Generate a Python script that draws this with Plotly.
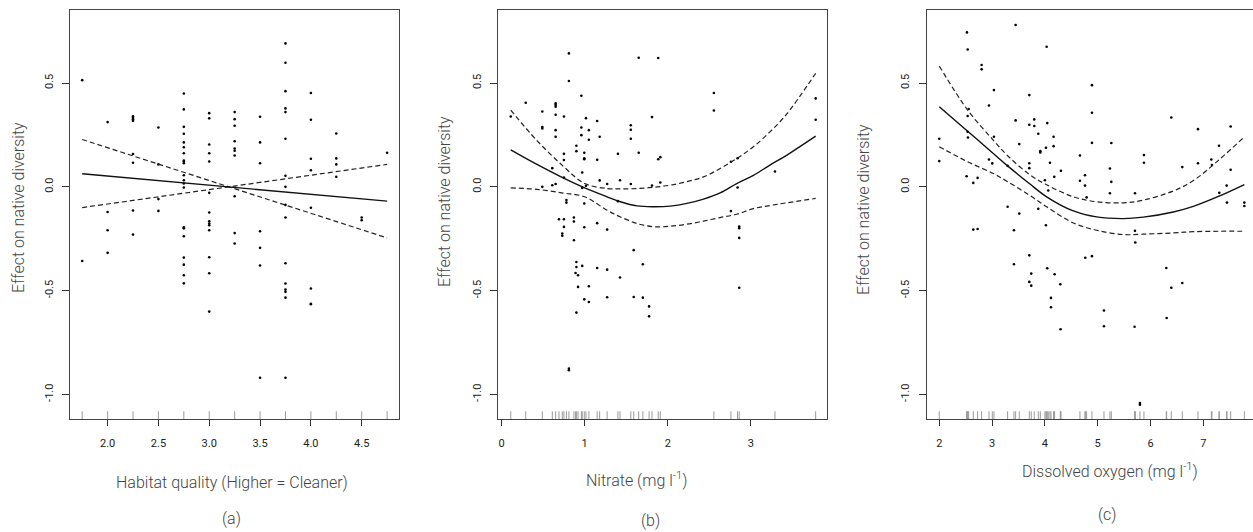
import plotly.graph_objects as go

# ---------------- Panel (a): habitat quality ----------------
hab_x = [1.75, 1.75,
         2.0, 2.0, 2.0, 2.0,
         2.25, 2.25, 2.25, 2.25, 2.25, 2.25, 2.25, 2.25,
         2.5, 2.5, 2.5, 2.5,
         2.75, 2.75, 2.75, 2.75, 2.75, 2.75, 2.75, 2.75, 2.75, 2.75, 2.75,
         2.75, 2.75, 2.75, 2.75, 2.75, 2.75, 2.75, 2.75, 2.75, 2.75,
         3.0, 3.0, 3.0, 3.0, 3.0, 3.0, 3.0, 3.0, 3.0, 3.0, 3.0, 3.0, 3.0, 3.0,
         3.25, 3.25, 3.25, 3.25, 3.25, 3.25, 3.25, 3.25, 3.25, 3.25,
         3.5, 3.5, 3.5, 3.5, 3.5, 3.5, 3.5,
         3.75, 3.75, 3.75, 3.75, 3.75, 3.75, 3.75, 3.75, 3.75, 3.75, 3.75,
         3.75, 3.75, 3.75, 3.75, 3.75,
         4.0, 4.0, 4.0, 4.0, 4.0, 4.0, 4.0, 4.0,
         4.25, 4.25, 4.25, 4.25,
         4.5, 4.5,
         4.75]
hab_y = [0.514, -0.357,
         0.312, -0.121, -0.209, -0.318,
         0.34, 0.333, 0.326, 0.318, 0.158, 0.116, -0.114, -0.23,
         0.286, 0.108, -0.059, -0.116,
         0.45, 0.373, 0.289, 0.256, 0.214, 0.191, 0.162, 0.127, 0.121, 0.114, 0.056,
         0.032, 0.016, -0.003, -0.195, -0.2, -0.238, -0.341, -0.375, -0.426, -0.465,
         0.355, 0.33, 0.204, 0.162, 0.122, -0.029, -0.124, -0.166, -0.177, -0.185, -0.209, -0.339, -0.416, -0.601,
         0.36, 0.326, 0.294, 0.22, 0.185, 0.174, 0.151, -0.045, -0.223, -0.273,
         0.338, 0.214, 0.114, -0.214, -0.294, -0.379, -0.92,
         0.691, 0.598, 0.461, 0.378, 0.36, 0.232, 0.053, 0.0, -0.087, -0.148, -0.368,
         -0.466, -0.495, -0.506, -0.534, -0.92,
         0.452, 0.323, 0.135, 0.08, -0.101, -0.49, -0.563, -0.566,
         0.257, 0.137, 0.108, 0.048,
         -0.148, -0.161,
         0.164]
hab_curve_x = [1.75, 4.75]
hab_fit = [0.063, -0.069]
hab_band1 = [0.228, -0.246]
hab_band2 = [-0.100, 0.108]
hab_ticks = [2.0, 2.5, 3.0, 3.5, 4.0, 4.5]
hab_ticktext = ["2.0", "2.5", "3.0", "3.5", "4.0", "4.5"]

# ---------------- Panel (b): nitrate ----------------
nit_x = [0.11, 0.29,
         0.49, 0.49, 0.49, 0.49,
         0.61, 0.61,
         0.65, 0.65, 0.65, 0.65, 0.65, 0.65, 0.65,
         0.69, 0.73, 0.73,
         0.75, 0.75, 0.75, 0.75, 0.75, 0.75,
         0.78, 0.78,
         0.81, 0.81, 0.81, 0.81,
         0.87, 0.87, 0.87, 0.89,
         0.90, 0.90, 0.90, 0.90, 0.90,
         0.92, 0.92,
         0.96, 0.96, 0.96,
         0.97, 0.97, 0.97,
         0.995, 0.995, 0.995, 0.995, 0.995, 0.995,
         1.015, 1.015,
         1.05, 1.05, 1.05, 1.05,
         1.15, 1.15, 1.15, 1.15,
         1.18, 1.18,
         1.27, 1.27, 1.27, 1.27,
         1.40, 1.40, 1.425, 1.425,
         1.555, 1.555, 1.555, 1.555,
         1.59, 1.59, 1.65, 1.65, 1.70, 1.70, 1.775, 1.775,
         1.81, 1.81, 1.885, 1.885, 1.91, 1.91,
         2.555, 2.555, 2.76, 2.76, 2.84, 2.84,
         2.86, 2.86, 2.86, 2.86,
         3.29, 3.78, 3.78]
nit_y = [0.339, 0.405,
         0.363, 0.288, 0.281, 0.0,
         0.09, 0.008,
         0.402, 0.394, 0.386, 0.347, 0.273, 0.241, 0.014,
         -0.156, -0.225, -0.236,
         0.339, 0.159, 0.129, 0.045, -0.156, -0.193,
         -0.064, -0.076,
         0.643, 0.51, -0.876, -0.884,
         -0.148, -0.167, -0.257, -0.415,
         0.198, 0.172, -0.362, -0.386, -0.606,
         -0.426, -0.482,
         0.439, 0.286, 0.249,
         0.069, -0.005, -0.381,
         0.164, 0.138, 0.133, -0.08, -0.195, -0.542,
         0.331, 0.005,
         0.273, 0.227, -0.479, -0.555,
         0.317, 0.13, -0.175, -0.391,
         0.241, 0.031,
         0.014, -0.206, -0.399, -0.532,
         0.159, -0.069, 0.032, -0.437,
         0.297, 0.275, 0.232, 0.014,
         -0.305, -0.531, 0.622, 0.164, -0.373, -0.534, -0.576, -0.624,
         0.336, 0.006, 0.621, 0.133, 0.143, 0.021,
         0.452, 0.368, 0.121, -0.117, 0.138, -0.003,
         -0.191, -0.199, -0.246, -0.486,
         0.074, 0.426, 0.323]
nit_curve_x = [0.11, 0.42, 0.74, 1.0, 1.27, 1.43, 1.63, 1.83, 2.03, 2.23, 2.43,
               2.63, 2.83, 3.03, 3.23, 3.43, 3.78]
nit_fit = [0.178, 0.109, 0.043, -0.005, -0.048, -0.072, -0.092, -0.096, -0.093,
           -0.080, -0.059, -0.029, 0.016, 0.055, 0.105, 0.152, 0.244]
nit_upper = [0.370, 0.225, 0.100, 0.016, -0.008, -0.010, -0.008, -0.002, 0.008,
             0.025, 0.048, 0.088, 0.136, 0.193, 0.265, 0.350, 0.547]
nit_lower = [-0.005, -0.012, -0.030, -0.048, -0.113, -0.145, -0.177, -0.192,
             -0.190, -0.180, -0.165, -0.148, -0.132, -0.105, -0.090, -0.077, -0.056]
nit_ticks = [0, 1, 2, 3]
nit_ticktext = ["0", "1", "2", "3"]

# ---------------- Panel (c): dissolved oxygen ----------------
oxy_x = [2.0, 2.0, 2.518, 2.524, 2.537, 2.537, 2.537, 2.543, 2.556,
         2.644, 2.644, 2.726, 2.726, 2.802, 2.802, 2.941, 2.941, 3.004,
         3.035, 3.035, 3.294, 3.294, 3.414, 3.414, 3.446, 3.446, 3.515, 3.515,
         3.705, 3.705, 3.705, 3.705, 3.705, 3.705, 3.742, 3.742, 3.799, 3.799,
         3.875, 3.875, 3.913, 3.913, 4.0, 4.02, 4.02, 4.033, 4.045, 4.045,
         4.064, 4.096, 4.115, 4.115, 4.165, 4.165, 4.178, 4.184,
         4.292, 4.298, 4.304, 4.664, 4.664, 4.759, 4.759, 4.765, 4.79,
         4.891, 4.891, 4.891, 4.891, 5.119, 5.119, 5.232, 5.232, 5.258, 5.258,
         5.706, 5.706, 5.712, 5.699, 5.80, 5.80, 5.876, 5.876,
         6.299, 6.306, 6.394, 6.394, 6.602, 6.602, 6.899, 6.899,
         7.152, 7.164, 7.297, 7.303, 7.442, 7.448, 7.518, 7.518, 7.777, 7.777]
oxy_y = [0.232, 0.124, 0.051, 0.744, 0.662, 0.341, 0.265, 0.238, 0.375,
         0.019, -0.206, 0.043, -0.203, 0.587, 0.566, 0.392, 0.132, 0.113,
         0.466, 0.241, -0.096, 0.101, -0.209, -0.373, 0.78, 0.32, 0.206, -0.129,
         0.442, 0.299, 0.114, 0.09, -0.33, -0.458, -0.418, -0.476, 0.325, 0.293,
         0.256, -0.106, 0.172, 0.166, 0.032, 0.188, -0.185, 0.675, 0.307, -0.392,
         -0.018, 0.116, -0.535, -0.58, 0.241, 0.196, 0.048, -0.421,
         -0.469, -0.686, 0.077, 0.151, 0.029, 0.056, 0.006, -0.342, -0.051,
         0.49, 0.357, 0.212, -0.334, -0.596, -0.672, 0.088, -0.031, 0.211, 0.024,
         -0.031, -0.212, -0.268, -0.674, -1.042, -1.05, 0.153, 0.116,
         -0.391, -0.632, 0.334, -0.486, 0.095, -0.463, 0.278, 0.114,
         0.132, 0.105, 0.198, -0.029, 0.006, -0.076, 0.291, 0.082, -0.076, -0.092]
oxy_curve_x = [2.0, 2.537, 3.023, 3.294, 3.705, 4.033, 4.538, 4.98, 5.485,
               5.864, 6.432, 6.811, 7.297, 7.777]
oxy_fit = [0.386, 0.268, 0.161, 0.101, 0.016, -0.048, -0.116, -0.145, -0.153,
           -0.146, -0.121, -0.094, -0.045, 0.011]
oxy_upper = [0.582, 0.370, 0.225, 0.150, 0.060, 0.010, -0.048, -0.072, -0.077,
             -0.064, -0.020, 0.030, 0.130, 0.241]
oxy_lower = [0.193, 0.121, 0.064, 0.025, -0.040, -0.096, -0.174, -0.209, -0.230,
             -0.228, -0.222, -0.216, -0.214, -0.214]
oxy_ticks = [2, 3, 4, 5, 6, 7]
oxy_ticktext = ["2", "3", "4", "5", "6", "7"]

y_ticks = [-1.0, -0.5, 0.0, 0.5]
y_ticktext = ["-1.0", "-0.5", "0.0", "0.5"]
y_title = "Effect on native diversity"
x_titles = ["Habitat quality (Higher = Cleaner)", "Nitrate (mg l<sup>-1</sup>)",
            "Dissolved oxygen (mg l<sup>-1</sup>)"]
panel_labels = ["(a)", "(b)", "(c)"]

# ---------------- layout geometry (pixels) ----------------
W, H = 1253, 532
Y_RANGE = [-1.12, 0.852]
BOX_TOP, BOX_BOT = 10, 419.3
RUG_PX = 8

panels = [
    dict(x=hab_x, y=hab_y, cx=hab_curve_x, fit=hab_fit, b1=hab_band1, b2=hab_band2,
         ticks=hab_ticks, tt=hab_ticktext, px=(70, 399.3), xr=[1.63, 4.87],
         ytitle_x=18, ytitle_y=208, xtitle=(232, 482), lab=(231, 518), mirror_y=True),
    dict(x=nit_x, y=nit_y, cx=nit_curve_x, fit=nit_fit, b1=nit_upper, b2=nit_lower,
         ticks=nit_ticks, tt=nit_ticktext, px=(498.3, 827.3), xr=[-0.04, 3.92],
         ytitle_x=444, ytitle_y=202, xtitle=(636, 479), lab=(651, 520), mirror_y=True),
    dict(x=oxy_x, y=oxy_y, cx=oxy_curve_x, fit=oxy_fit, b1=oxy_upper, b2=oxy_lower,
         ticks=oxy_ticks, tt=oxy_ticktext, px=(926.7, 1253), xr=[1.762, 7.941],
         ytitle_x=863, ytitle_y=210, xtitle=(1110, 470), lab=(1107, 514), mirror_y=False),
]

fig = go.Figure()
ink = "#333333"
font_family = "Roboto, Liberation Sans, sans-serif"
annotations = []
rug_len = RUG_PX / (BOX_BOT - BOX_TOP) * (Y_RANGE[1] - Y_RANGE[0])

for i, p in enumerate(panels, start=1):
    xa = "x" if i == 1 else f"x{i}"
    ya = "y" if i == 1 else f"y{i}"
    # rug
    rx, ry = [], []
    for v in sorted(set(p["x"])):
        rx += [v, v, None]
        ry += [Y_RANGE[0], Y_RANGE[0] + rug_len, None]
    fig.add_trace(go.Scatter(x=rx, y=ry, mode="lines", xaxis=xa, yaxis=ya,
                             line=dict(color="#9a9a9a", width=1), hoverinfo="skip",
                             showlegend=False))
    # partial residual points
    fig.add_trace(go.Scatter(x=p["x"], y=p["y"], mode="markers", xaxis=xa, yaxis=ya,
                             marker=dict(color="black", size=2.6), showlegend=False))
    # confidence bands
    for band in (p["b1"], p["b2"]):
        fig.add_trace(go.Scatter(x=p["cx"], y=band, mode="lines", xaxis=xa, yaxis=ya,
                                 line=dict(color="#222222", width=1.2, dash="5px,3px",
                                           shape="spline"),
                                 showlegend=False))
    # fitted smooth
    fig.add_trace(go.Scatter(x=p["cx"], y=p["fit"], mode="lines", xaxis=xa, yaxis=ya,
                             line=dict(color="#111111", width=1.4, shape="spline"),
                             showlegend=False))

    x0, x1 = p["px"]
    fig.layout[f"xaxis{'' if i == 1 else i}"] = dict(
        domain=[x0 / W, x1 / W], range=p["xr"], anchor=ya,
        tickmode="array", tickvals=p["ticks"], ticktext=p["tt"],
        ticks="outside", ticklen=6, tickcolor=ink, tickwidth=1,
        showline=True, linecolor="#444444", linewidth=1, mirror=True,
        showgrid=False, zeroline=False, ticklabelstandoff=7,
        tickfont=dict(family=font_family, size=11, color="#222222"))
    fig.layout[f"yaxis{'' if i == 1 else i}"] = dict(
        domain=[(H - BOX_BOT) / H, (H - BOX_TOP) / H], range=Y_RANGE, anchor=xa,
        tickmode="array", tickvals=y_ticks, ticktext=y_ticktext, tickangle=-90,
        ticks="outside", ticklen=7, tickcolor=ink, tickwidth=1,
        showline=True, linecolor="#444444", linewidth=1, mirror=p["mirror_y"],
        showgrid=False, zeroline=False, ticklabelstandoff=5,
        tickfont=dict(family=font_family, size=11, color="#222222"))

    annotations.append(dict(x=p["ytitle_x"] / W, y=1 - p["ytitle_y"] / H, xref="paper",
                            yref="paper", text=y_title, textangle=-90, showarrow=False,
                            xanchor="center", yanchor="middle",
                            font=dict(family=font_family, size=16, color="#444444", weight=300)))
    annotations.append(dict(x=p["xtitle"][0] / W, y=1 - p["xtitle"][1] / H, xref="paper",
                            yref="paper", text=x_titles[i - 1], showarrow=False,
                            xanchor="center", yanchor="middle",
                            font=dict(family=font_family, size=16, color="#444444", weight=300)))
    annotations.append(dict(x=p["lab"][0] / W, y=1 - p["lab"][1] / H, xref="paper",
                            yref="paper", text=panel_labels[i - 1], showarrow=False,
                            xanchor="center", yanchor="middle",
                            font=dict(family=font_family, size=16, color="#444444", weight=300)))

fig.update_layout(width=W, height=H, margin=dict(l=0, r=0, t=0, b=0),
                  paper_bgcolor="white", plot_bgcolor="white",
                  annotations=annotations, showlegend=False)

fig.write_html("out.html", config={"displayModeBar": False},
               post_script="document.body.style.margin='0';document.body.style.padding='0';"
                           "document.body.style.overflow='hidden';")
